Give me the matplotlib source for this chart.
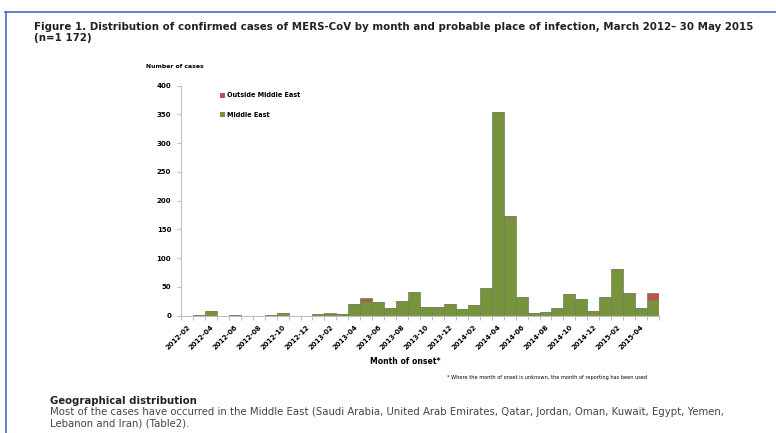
import numpy as np
import matplotlib
matplotlib.use("Agg")
import matplotlib.pyplot as plt
from matplotlib.lines import Line2D

# monthly counts, 2012-02 .. 2015-05
months = ['2012-02', '2012-03', '2012-04', '2012-05', '2012-06', '2012-07', '2012-08', '2012-09',
          '2012-10', '2012-11', '2012-12', '2013-01', '2013-02', '2013-03', '2013-04', '2013-05',
          '2013-06', '2013-07', '2013-08', '2013-09', '2013-10', '2013-11', '2013-12', '2014-01',
          '2014-02', '2014-03', '2014-04', '2014-05', '2014-06', '2014-07', '2014-08', '2014-09',
          '2014-10', '2014-11', '2014-12', '2015-01', '2015-02', '2015-03', '2015-04', '2015-05']
middle_east = [0, 1, 9, 0, 1, 0, 0, 1,
               5, 0, 0, 3, 3, 3, 20, 26,
               24, 14, 25, 42, 16, 16, 21, 11,
               18, 49, 354, 173, 33, 4, 7, 14,
               38, 29, 8, 33, 81, 40, 14, 28]
outside_me = [0, 0, 0, 0, 0, 0, 0, 0,
              0, 0, 0, 0, 2, 0, 0, 4,
              0, 0, 0, 0, 0, 0, 0, 0,
              0, 0, 0, 0, 0, 0, 0, 0,
              0, 0, 0, 0, 0, 0, 0, 11]

green = '#77933c'
red = '#c0504d'
axis_grey = '#bfbfbf'

fig = plt.figure(figsize=(7.76, 4.33), dpi=100)
ax = fig.add_axes([181 / 776, 1 - 315.7 / 433, 478 / 776, 230 / 433])

x = np.arange(len(months))
ax.bar(x, middle_east, width=1, align='edge', color=green, edgecolor='#6f7f5a', linewidth=0.5,
       label='Middle East')
ax.bar(x, outside_me, width=1, align='edge', bottom=middle_east, color=red, edgecolor='#6f7f5a',
       linewidth=0.5, label='Outside Middle East')

ax.set_xlim(0, len(months))
ax.set_ylim(0, 400)

# y axis
ax.set_yticks(np.arange(0, 401, 50))
ax.tick_params(axis='y', direction='out', length=3, width=0.8, color=axis_grey,
               labelsize=5, pad=4)
for t in ax.get_yticklabels():
    t.set_fontweight('bold')

# x axis: boundary marks as minor ticks, labels every other month
ax.set_xticks(np.arange(0, len(months) + 1), minor=True)
ax.set_xticks(x[::2] + 0.5)
ax.set_xticklabels(months[::2], rotation=45, ha='right', va='top', rotation_mode='anchor',
                   fontsize=5, fontweight='bold')
ax.tick_params(axis='x', which='major', length=0, pad=6)
ax.tick_params(axis='x', which='minor', direction='out', length=3, width=0.8, color=axis_grey)

for s in ['top', 'right']:
    ax.spines[s].set_visible(False)
for s in ['left', 'bottom']:
    ax.spines[s].set_color(axis_grey)
    ax.spines[s].set_linewidth(0.8)

handles, labels = ax.get_legend_handles_labels()
leg = ax.legend(handles[::-1], labels[::-1], loc='upper left', bbox_to_anchor=(0.07, 0.996),
                frameon=False, fontsize=4.7, handlelength=0.75, handleheight=0.75,
                handletextpad=0.25, labelspacing=2.0)
for t in leg.get_texts():
    t.set_fontweight('bold')
for h in leg.legend_handles:
    h.set_edgecolor('none')

fig.text(146 / 776, 1 - 66 / 433, 'Number of cases', fontsize=4.4, fontweight='bold',
         va='center', ha='left')
fig.text(405 / 776, 1 - 362 / 433, 'Month of onset*', fontsize=5.6, fontweight='bold',
         va='center', ha='center')
fig.text(447 / 776, 1 - 378 / 433,
         '* Where the month of onset is unknown, the month of reporting has been used',
         fontsize=3.6, va='center', ha='left')

# page text around the figure
fig.text(34 / 776, 1 - 27 / 433,
         'Figure 1. Distribution of confirmed cases of MERS-CoV by month and probable place of '
         'infection, March 2012\u2013 30 May 2015',
         fontsize=7.35, fontweight='bold', va='center', ha='left', color='#222222')
fig.text(34 / 776, 1 - 38 / 433, '(n=1 172)', fontsize=7.35, fontweight='bold',
         va='center', ha='left', color='#222222')
fig.text(50 / 776, 1 - 401 / 433, 'Geographical distribution', fontsize=7.3, fontweight='bold',
         va='center', ha='left', color='#222222')
fig.text(50 / 776, 1 - 412 / 433,
         'Most of the cases have occurred in the Middle East (Saudi Arabia, United Arab Emirates, '
         'Qatar, Jordan, Oman, Kuwait, Egypt, Yemen,',
         fontsize=7.25, va='center', ha='left', color='#444444')
fig.text(50 / 776, 1 - 423 / 433, 'Lebanon and Iran) (Table2).',
         fontsize=7.25, va='center', ha='left', color='#444444')

# blue page frame
frame_blue = '#3f72b5'
fig.add_artist(Line2D([5 / 776, 1], [1 - 12 / 433, 1 - 12 / 433], color=frame_blue, linewidth=1.2,
                      transform=fig.transFigure))
fig.add_artist(Line2D([6 / 776, 6 / 776], [0, 1 - 12 / 433], color=frame_blue, linewidth=1.2,
                      transform=fig.transFigure))

fig.savefig('out.png', dpi=100)
